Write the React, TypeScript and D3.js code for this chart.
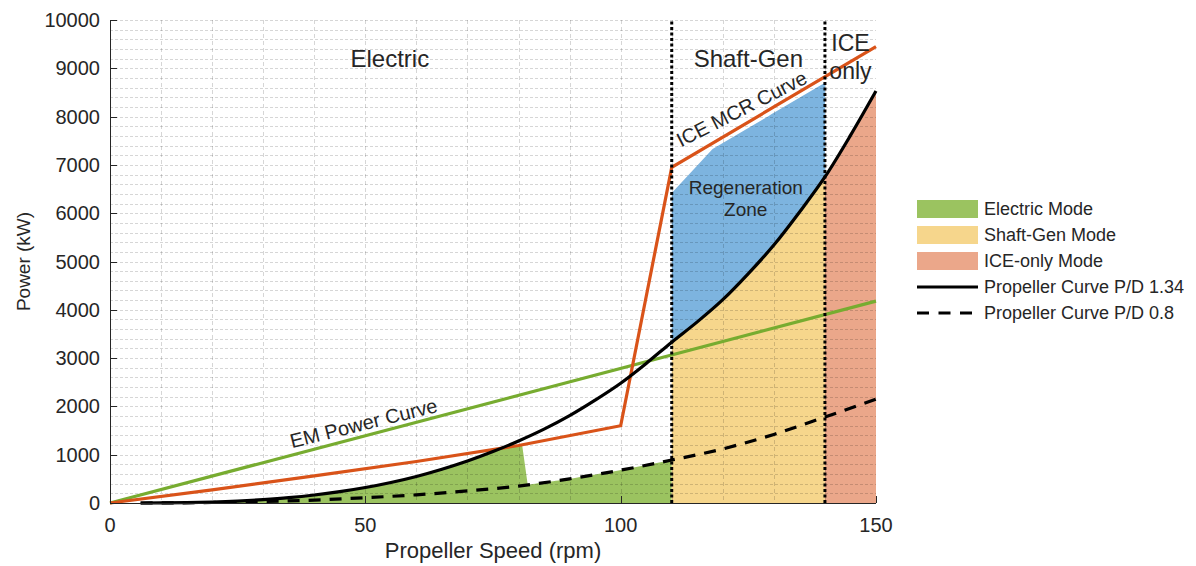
import React from 'react';
import * as d3 from 'd3';

const W = 1196;
const H = 566;
const plot = { left: 110, right: 876, top: 20, bottom: 503 };

const xTicks = [0, 50, 100, 150];
const yTicks = [0, 1000, 2000, 3000, 4000, 5000, 6000, 7000, 8000, 9000, 10000];

// Propeller curve P/D 1.34 (rpm, kW)
const propRpm = [6, 10, 15, 20, 25, 30, 35, 40, 45, 50, 55, 60, 65, 70, 75, 80, 85, 90, 95, 100, 105, 110, 115, 120, 125, 130, 135, 140, 145, 150];
const propPD134 = [0, 2, 8, 20, 40, 70, 110, 165, 235, 320, 425, 550, 700, 870, 1065, 1285, 1530, 1810, 2130, 2480, 2890, 3330, 3750, 4210, 4750, 5340, 6020, 6750, 7610, 8530];

// Propeller curve P/D 0.8
const pd08Rpm = [6, 10, 20, 30, 40, 50, 60, 70, 80, 90, 100, 110, 120, 130, 140, 150];
const propPD08 = [0, 2, 10, 30, 60, 110, 170, 250, 350, 500, 680, 890, 1120, 1420, 1780, 2150];

// EM power curve
const emRpm = [0, 150];
const emPower = [0, 4180];

// ICE MCR curve
const iceRpm = [0, 20, 40, 60, 80, 100, 110, 150];
const icePower = [0, 270, 560, 860, 1190, 1600, 6950, 9450];

// Regeneration zone upper edge
const regenRpm = [110, 118, 140];
const regenPower = [6420, 7330, 8700];

// Mode boundaries (rpm)
const shaftGenStart = 110;
const iceOnlyStart = 140;
const maxRpm = 150;
const electricCutTop = 80.7;
const electricCutBottom = 81.8;

const legendItems = [
  { label: 'Electric Mode', kind: 'rect', color: '#9bc360' },
  { label: 'Shaft-Gen Mode', kind: 'rect', color: '#f6d68c' },
  { label: 'ICE-only Mode', kind: 'rect', color: '#eba78a' },
  { label: 'Propeller Curve P/D 1.34', kind: 'solid', color: '#000' },
  { label: 'Propeller Curve P/D 0.8', kind: 'dashed', color: '#000' },
];

const FONT = '"Liberation Sans", Arial, Helvetica, sans-serif';
const TXT = '#262626';

export default function App() {
  const x = d3.scaleLinear().domain([0, 150]).range([plot.left, plot.right]);
  const y = d3.scaleLinear().domain([0, 10000]).range([plot.bottom, plot.top]);

  const black = d3.scaleLinear().domain(propRpm).range(propPD134).clamp(true);
  const dashed = d3.scaleLinear().domain(pd08Rpm).range(propPD08).clamp(true);
  const orange = d3.scaleLinear().domain(iceRpm).range(icePower).clamp(true);
  const regen = d3.scaleLinear().domain(regenRpm).range(regenPower).clamp(true);

  const range = (a: number, b: number, step: number) => {
    const r = d3.range(a, b, step);
    r.push(b);
    return r;
  };

  const poly = d3.line<[number, number]>().x((d) => x(d[0])).y((d) => y(d[1]));

  // Electric fill
  const elec: [number, number][] = [[0, 0]];
  range(0, electricCutTop, 0.25).forEach((r) => elec.push([r, Math.min(black(r), orange(r))]));
  range(electricCutBottom, shaftGenStart, 0.5).forEach((r) => elec.push([r, dashed(r)]));
  elec.push([shaftGenStart, 0]);

  const shaft: [number, number][] = [[shaftGenStart, 0]];
  range(shaftGenStart, iceOnlyStart, 0.5).forEach((r) => shaft.push([r, black(r)]));
  shaft.push([iceOnlyStart, 0]);

  const ice: [number, number][] = [[iceOnlyStart, 0]];
  range(iceOnlyStart, maxRpm, 0.5).forEach((r) => ice.push([r, black(r)]));
  ice.push([maxRpm, 0]);

  const reg: [number, number][] = [];
  range(shaftGenStart, iceOnlyStart, 0.5).forEach((r) => reg.push([r, regen(r)]));
  range(shaftGenStart, iceOnlyStart, 0.5).reverse().forEach((r) => reg.push([r, black(r)]));

  const blackPath = d3
    .line<number>()
    .x((_, i) => x(propRpm[i]))
    .y((d) => y(d))
    .curve(d3.curveMonotoneX)(propPD134) as string;
  const dashedPath = d3
    .line<number>()
    .x((_, i) => x(pd08Rpm[i]))
    .y((d) => y(d))
    .curve(d3.curveMonotoneX)(propPD08) as string;
  const emPath = d3
    .line<number>()
    .x((_, i) => x(emRpm[i]))
    .y((d) => y(d))(emPower) as string;
  const icePath = d3
    .line<number>()
    .x((_, i) => x(iceRpm[i]))
    .y((d) => y(d))(icePower) as string;

  const hGrid = d3.range(0, 10001, 200);
  const vGrid = d3.range(10, 150, 10);

  return (
    <svg width={W} height={H} style={{ position: 'absolute', left: 0, top: 0, background: '#fff' }} fontFamily={FONT}>
      {/* fills */}
      <path d={poly(elec) as string} fill="#9bc360" />
      <path d={poly(shaft) as string} fill="#f6d68c" />
      <path d={poly(ice) as string} fill="#eba78a" />
      <path d={poly(reg) as string} fill="#7db4df" />

      {/* grid */}
      <g stroke="#000" strokeOpacity={0.16} strokeWidth={1}>
        {hGrid.map((v) => (
          <line key={'h' + v} x1={plot.left} x2={plot.right} y1={Math.round(y(v)) + 0.5} y2={Math.round(y(v)) + 0.5} strokeDasharray="3 2" />
        ))}
        {vGrid.map((v) => (
          <line key={'v' + v} x1={Math.round(x(v)) + 0.5} x2={Math.round(x(v)) + 0.5} y1={plot.top} y2={plot.bottom} strokeDasharray="4 3" />
        ))}
      </g>

      {/* curves */}
      <path d={emPath} fill="none" stroke="#77ac30" strokeWidth={3.2} />
      <path d={icePath} fill="none" stroke="#d95319" strokeWidth={3.2} strokeLinejoin="miter" />
      <path d={dashedPath} fill="none" stroke="#000" strokeWidth={3.2} strokeDasharray="12 9" />
      <path d={blackPath} fill="none" stroke="#000" strokeWidth={3.2} />

      {/* mode boundaries */}
      {[shaftGenStart, iceOnlyStart].map((r) => (
        <line key={'b' + r} x1={x(r)} x2={x(r)} y1={y(0)} y2={y(10000)} stroke="#000" strokeWidth={3} strokeDasharray="3 2.5" />
      ))}

      {/* axes */}
      <g stroke={TXT} strokeWidth={1} fill="none">
        <line x1={plot.left + 0.5} x2={plot.left + 0.5} y1={plot.top} y2={plot.bottom + 0.5} />
        <line x1={plot.left} x2={plot.right} y1={plot.bottom + 0.5} y2={plot.bottom + 0.5} />
        {yTicks.map((t) => (
          <line key={'yt' + t} x1={plot.left} x2={plot.left + 7} y1={Math.round(y(t)) + 0.5} y2={Math.round(y(t)) + 0.5} />
        ))}
        {xTicks.map((t) => (
          <line key={'xt' + t} x1={Math.round(x(t)) + 0.5} x2={Math.round(x(t)) + 0.5} y1={plot.bottom} y2={plot.bottom - 7} />
        ))}
      </g>
      <g fill={TXT} fontSize={20}>
        {yTicks.map((t) => (
          <text key={'yl' + t} x={plot.left - 10} y={y(t) + 7} textAnchor="end">
            {t}
          </text>
        ))}
        {xTicks.map((t) => (
          <text key={'xl' + t} x={x(t)} y={plot.bottom + 29} textAnchor="middle">
            {t}
          </text>
        ))}
      </g>
      <text x={(plot.left + plot.right) / 2} y={558} textAnchor="middle" fontSize={22} fill={TXT}>
        Propeller Speed (rpm)
      </text>
      <text transform={`translate(30, ${(plot.top + plot.bottom) / 2}) rotate(-90)`} textAnchor="middle" fontSize={19} fill={TXT}>
        Power (kW)
      </text>

      {/* annotations */}
      <g fill={TXT}>
        <text x={x(54.8)} y={67} textAnchor="middle" fontSize={24}>Electric</text>
        <text x={x(125)} y={67} textAnchor="middle" fontSize={24}>Shaft-Gen</text>
        <text x={x(145)} y={51} textAnchor="middle" fontSize={23}>ICE</text>
        <text x={x(145)} y={79} textAnchor="middle" fontSize={23}>only</text>
        <text x={x(124.5)} y={194} textAnchor="middle" fontSize={19}>Regeneration</text>
        <text x={x(124.5)} y={216} textAnchor="middle" fontSize={19}>Zone</text>
        <text transform={`translate(${x(124.3)}, 115) rotate(-27)`} textAnchor="middle" fontSize={20}>ICE MCR Curve</text>
        <text transform={`translate(${x(50)}, 430) rotate(-14)`} textAnchor="middle" fontSize={20}>EM Power Curve</text>
      </g>

      {/* legend */}
      <g>
        {legendItems.map((it, i) => {
          const cy = 209 + i * 26;
          return (
            <g key={it.label}>
              {it.kind === 'rect' ? (
                <rect x={917} y={cy - 9} width={61} height={18} fill={it.color} />
              ) : (
                <line x1={917} x2={978} y1={cy} y2={cy} stroke={it.color} strokeWidth={3} strokeDasharray={it.kind === 'dashed' ? '12 9.5' : undefined} />
              )}
              <text x={984} y={cy + 6} fontSize={18} fill={TXT}>
                {it.label}
              </text>
            </g>
          );
        })}
      </g>
    </svg>
  );
}
